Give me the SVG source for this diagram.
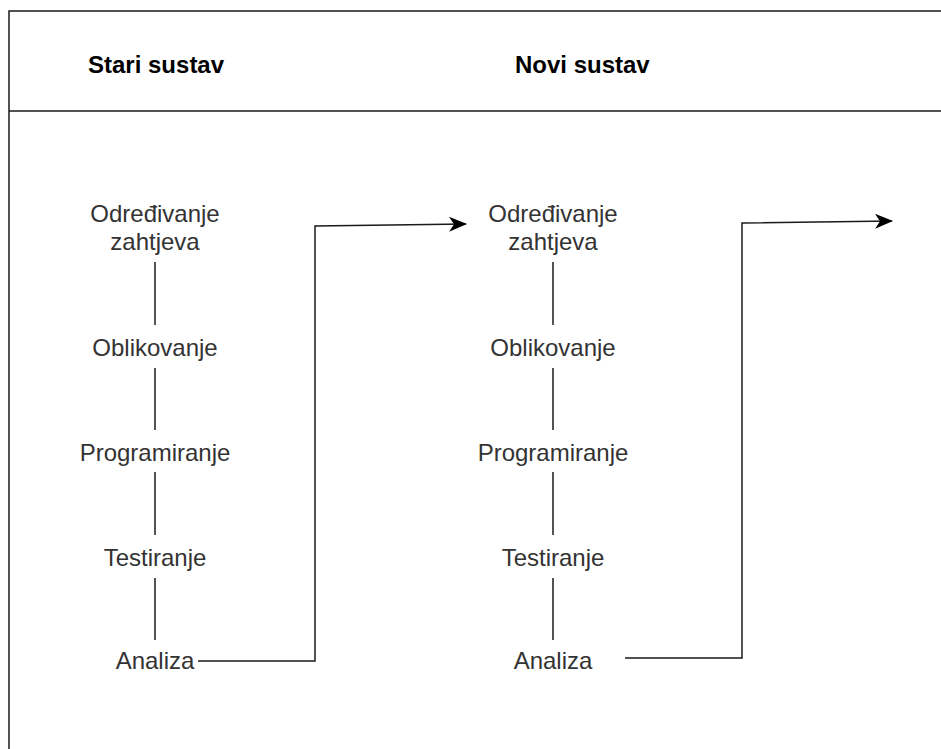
<svg xmlns="http://www.w3.org/2000/svg" width="941" height="749" viewBox="0 0 941 749">
<style>
.frame{fill:none;stroke:#1a1a1a;stroke-width:1.5}
.hdr{font-family:"Liberation Sans",Arial,sans-serif;font-size:24px;font-weight:bold;fill:#000}
.lbl{font-family:"Liberation Sans",Arial,sans-serif;font-size:24px;fill:#333;text-anchor:middle}
.ln{stroke:#1a1a1a;stroke-width:1.5;fill:none}
</style>
<defs>
<marker id="arr" viewBox="0 0 18 15" refX="17" refY="7.5" markerWidth="18" markerHeight="15" markerUnits="userSpaceOnUse" orient="auto">
<path d="M0,0 L18,7.5 L0,15 L5,7.5 Z" fill="#000"/>
</marker>
</defs>
<rect width="941" height="749" fill="#fff"/>
<g id="frame">
<path class="frame" d="M9,749 V11 H941"/>
<line class="frame" x1="9" y1="111" x2="941" y2="111"/>
</g>
<g id="hdr-stari"><text class="hdr" x="88" y="73">Stari sustav</text></g>
<g id="hdr-novi"><text class="hdr" x="515" y="73">Novi sustav</text></g>
<g id="stari">
<g id="s1"><text class="lbl" x="155" y="222">Određivanje</text><text class="lbl" x="155" y="250">zahtjeva</text></g>
<g id="s2"><text class="lbl" x="155" y="356">Oblikovanje</text></g>
<g id="s3"><text class="lbl" x="155" y="461">Programiranje</text></g>
<g id="s4"><text class="lbl" x="155" y="566">Testiranje</text></g>
<g id="s5"><text class="lbl" x="155" y="669">Analiza</text></g>
</g>
<g id="novi">
<g id="n1"><text class="lbl" x="553" y="222">Određivanje</text><text class="lbl" x="553" y="250">zahtjeva</text></g>
<g id="n2"><text class="lbl" x="553" y="356">Oblikovanje</text></g>
<g id="n3"><text class="lbl" x="553" y="461">Programiranje</text></g>
<g id="n4"><text class="lbl" x="553" y="566">Testiranje</text></g>
<g id="n5"><text class="lbl" x="553" y="669">Analiza</text></g>
</g>
<g id="connectors">
<line class="ln" x1="155" y1="262" x2="155" y2="325"/>
<line class="ln" x1="155" y1="368" x2="155" y2="430"/>
<line class="ln" x1="155" y1="472" x2="155" y2="535"/>
<line class="ln" x1="155" y1="578" x2="155" y2="640"/>
<line class="ln" x1="553" y1="262" x2="553" y2="325"/>
<line class="ln" x1="553" y1="368" x2="553" y2="430"/>
<line class="ln" x1="553" y1="472" x2="553" y2="535"/>
<line class="ln" x1="553" y1="578" x2="553" y2="640"/>
<path class="ln" d="M198,661 H315 V226 L466,224" marker-end="url(#arr)"/>
<path class="ln" d="M625,658 H742 V223 L892,221" marker-end="url(#arr)"/>
</g>
</svg>
